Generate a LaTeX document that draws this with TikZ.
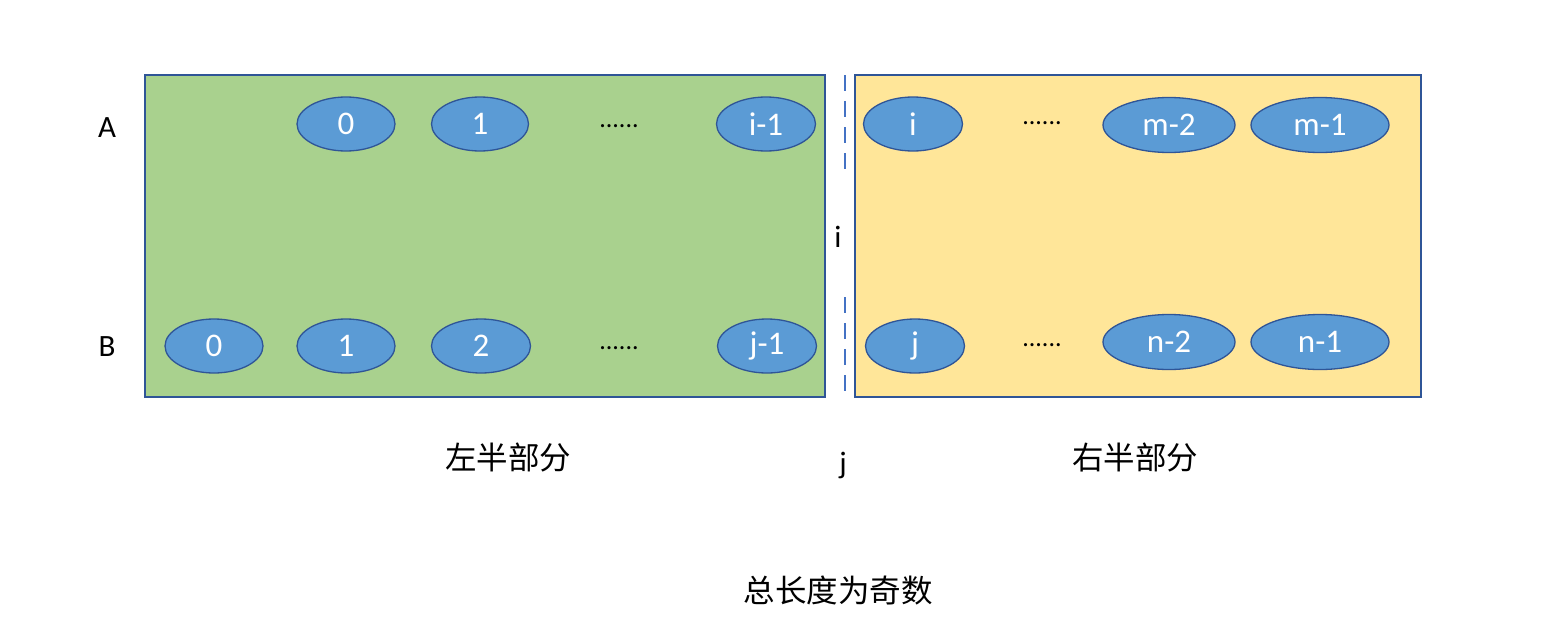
\documentclass[tikz,border=0pt]{standalone}
\usepackage{fontspec}
\setmainfont{Carlito}
\newfontfamily\cjk{Noto Sans CJK SC}
\usetikzlibrary{shapes.geometric}
\definecolor{lgreen}{HTML}{A9D18E}
\definecolor{lyellow}{HTML}{FFE699}
\definecolor{eblue}{HTML}{5B9BD5}
\definecolor{bdark}{HTML}{2F5597}
\definecolor{dashc}{HTML}{4472C4}
\tikzset{
  half/.style={draw=bdark, line width=1.5pt},
  elem/.style={ellipse, draw=bdark, line width=1.3pt, fill=eblue, text=white, inner sep=0pt,
    font=\fontsize{33}{33}\selectfont},
  lbl/.style={font=\fontsize{31}{31}\selectfont},
  dots/.style={font=\fontsize{26}{26}\selectfont},
  cjklbl/.style={font=\cjk\fontsize{31.5}{31.5}\selectfont},
  sep/.style={draw=dashc, line width=1.5pt, dash pattern=on 16pt off 10pt},
}
\begin{document}
\begin{tikzpicture}[x=1pt,y=-1pt]
\useasboundingbox (0,0) rectangle (1550,640);
\draw[half, fill=lgreen] (145,75) rectangle (825,397);
\draw[half, fill=lyellow] (855,75) rectangle (1421,397);
% A row
\node[elem, minimum width=98pt, minimum height=54pt] (a0) at (346,124) {0};
\node[elem, minimum width=97pt, minimum height=54pt] (a1) at (480,124) {1};
\node[dots] (adots) at (619,126) {......};
\node[elem, minimum width=99pt, minimum height=54pt] (ai1) at (766,124) {i-1};
\node[elem, minimum width=99pt, minimum height=54pt] (ai) at (913,124) {i};
\node[dots] (adots2) at (1042,123) {......};
\node[elem, minimum width=132pt, minimum height=55pt] (am2) at (1169,125) {m-2};
\node[elem, minimum width=138pt, minimum height=55pt] (am1) at (1320,125) {m-1};
% B row
\node[elem, minimum width=98pt, minimum height=54pt] (b0) at (214,346) {0};
\node[elem, minimum width=98pt, minimum height=54pt] (b1) at (346,346) {1};
\node[elem, minimum width=99pt, minimum height=54pt] (b2) at (481,346) {2};
\node[dots] (bdots) at (619,348) {......};
\node[elem, minimum width=99pt, minimum height=54pt] (bj1) at (767,346) {j-1};
\node[elem, minimum width=99pt, minimum height=54pt] (bj) at (915,346) {j};
\node[dots] (bdots2) at (1042,345) {......};
\node[elem, minimum width=132pt, minimum height=55pt] (bn2) at (1169,342) {n-2};
\node[elem, minimum width=138pt, minimum height=55pt] (bn1) at (1320,342) {n-1};
% row labels
\node[lbl] (la) at (107,128) {A};
\node[lbl] (lb) at (107,347) {B};
% separator
\coordinate (s1) at (845,75);
\coordinate (s2) at (845,172);
\coordinate (s3) at (845,297);
\coordinate (s4) at (845,397);
\draw[sep] (s1) -- (s2);
\draw[sep] (s3) -- (s4);
\node[lbl] (li) at (838,237) {i};
\node[lbl] (lj) at (843,465) {j};
% captions
\node[cjklbl] (left) at (508,458) {左半部分};
\node[cjklbl] (right) at (1135,458) {右半部分};
\node[cjklbl] (total) at (838,590) {总长度为奇数};
\end{tikzpicture}
\end{document}
